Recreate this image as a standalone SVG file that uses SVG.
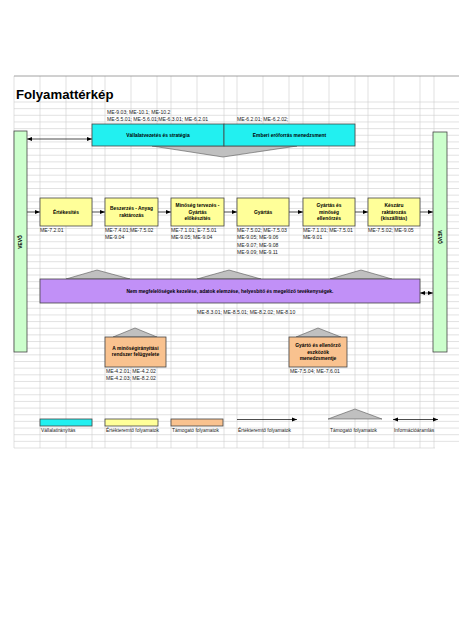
<svg xmlns="http://www.w3.org/2000/svg" width="474" height="632" viewBox="0 0 474 632">
<defs>
<marker id="ah" viewBox="0 0 10 10" refX="10" refY="5" markerWidth="5" markerHeight="5" markerUnits="userSpaceOnUse" orient="auto-start-reverse"><path d="M0,1 L10,5 L0,9 Z" fill="#000"/></marker>
<style>
text{font-family:"Liberation Sans",Arial,sans-serif;}
.grid{stroke:#cfcfcf;stroke-width:0.6;fill:none;}
.box{stroke:#444;stroke-width:0.8;}
.cyan{fill:#22f0f0;}
.yel{fill:#ffff99;}
.org{fill:#f9c28f;}
.pur{fill:#c190f7;}
.grn{fill:#ccffcc;}
.tri{fill:#c0c0c0;stroke:#555;stroke-width:0.6;}
.bt{font-size:4.9px;font-weight:bold;text-anchor:middle;fill:#000;}
.me{font-size:5.1px;fill:#222;}
.lg{font-size:4.9px;fill:#222;}
.ln{stroke:#000;stroke-width:0.7;fill:none;}
</style>
</defs>
<rect width="474" height="632" fill="#fff"/>
<g id="grid">
<path class="grid" d="M14,102H459M14,108.65H459M14,115.31H459M14,121.96H459M14,128.62H459M14,135.27H459M14,141.92H459M14,148.58H459M14,155.23H459M14,161.89H459M14,168.54H459M14,175.19H459M14,181.85H459M14,188.5H459M14,195.16H459M14,201.81H459M14,208.46H459M14,215.12H459M14,221.77H459M14,228.43H459M14,235.08H459M14,241.73H459M14,248.39H459M14,255.04H459M14,261.7H459M14,268.35H459M14,275H459M14,281.66H459M14,288.31H459M14,294.97H459M14,301.62H459M14,308.27H459M14,314.93H459M14,321.58H459M14,328.24H459M14,334.89H459M14,341.54H459M14,348.2H459M14,354.85H459M14,361.51H459M14,368.16H459M14,374.81H459M14,381.47H459M14,388.12H459M14,394.78H459M14,401.43H459M14,408.08H459M14,414.74H459M14,421.39H459M14,428.05H459M14,434.7H459M14,441.35H459M14,448H435"/>
<path class="grid" d="M14,76V448M40,76V448M66,76V448M92,76V448M105,76V448M131,76V448M157,76V448M171,76V448M197,76V448M224,76V448M237,76V448M263,76V448M289,76V448M303,76V448M329,76V448M355,76V448M368,76V448M394,76V448M420,76V448M434,76V448"/>
<path d="M14,76H459" stroke="#8a8a8a" stroke-width="0.8"/>
</g>
<text x="16" y="99" font-size="13.2" font-weight="bold" fill="#000">Folyamattérkép</text>

<g id="connectors">
<line class="ln" x1="27" y1="139" x2="92" y2="139" marker-start="url(#ah)" marker-end="url(#ah)"/>
<line class="ln" x1="27" y1="212" x2="40" y2="212" marker-end="url(#ah)"/>
<line class="ln" x1="92" y1="212" x2="105" y2="212" marker-end="url(#ah)"/>
<line class="ln" x1="158" y1="212" x2="171" y2="212" marker-end="url(#ah)"/>
<line class="ln" x1="224" y1="212" x2="237" y2="212" marker-end="url(#ah)"/>
<line class="ln" x1="289" y1="212" x2="303" y2="212" marker-end="url(#ah)"/>
<line class="ln" x1="355" y1="212" x2="368" y2="212" marker-end="url(#ah)"/>
<line class="ln" x1="420" y1="212" x2="433" y2="212" marker-end="url(#ah)"/>
<line class="ln" x1="420" y1="293" x2="433" y2="293" marker-start="url(#ah)" marker-end="url(#ah)"/>
<polygon class="tri" points="152,146 297,146 223,157"/>
<polygon class="tri" points="66,279 130,279 97,270"/>
<polygon class="tri" points="197,279 261,279 229,270"/>
<polygon class="tri" points="330,279 392,279 361,270"/>
<polygon class="tri" points="113,337 157,337 135,328"/>
<polygon class="tri" points="296,337 341,337 318,328"/>
</g>

<g id="vevo-left">
<rect class="box grn" x="14" y="131" width="13" height="221"/>
<text class="bt" transform="translate(22.2,242) rotate(-90)">VEVŐ</text>
</g>
<g id="vevo-right">
<rect class="box grn" x="433" y="132" width="14" height="220"/>
<text class="bt" transform="translate(438.3,237) rotate(90)">VEVŐ</text>
</g>

<g id="vallalatvezetes">
<text class="me" x="107" y="114">ME-9.03; ME-10.1; ME-10.2</text>
<text class="me" x="107" y="121">ME-5.5.01; ME-5.6.01;ME-6.3.01; ME-6.2.01</text>
<rect class="box cyan" x="92" y="124" width="132" height="22"/>
<text class="bt" x="158" y="136.5">Vállalatvezetés és stratégia</text>
</g>
<g id="emberi">
<text class="me" x="237" y="121">ME-6.2.01; ME-6.2.02;</text>
<rect class="box cyan" x="224" y="124" width="131" height="22"/>
<text class="bt" x="289.5" y="136.5">Emberi erőforrás menedzsment</text>
</g>

<g id="ertekesites">
<rect class="box yel" x="40" y="198" width="52" height="28"/>
<text class="bt" x="66" y="213.8">Értékesítés</text>
<text class="me" x="40" y="231.5">ME-7.2.01</text>
</g>
<g id="beszerzes">
<rect class="box yel" x="105" y="198" width="53" height="28"/>
<text class="bt" x="131.5" y="209.8">Beszerzés -  Anyag</text>
<text class="bt" x="131.5" y="216.5">raktározás</text>
<text class="me" x="105" y="231.5">ME-7.4.01;ME-7.5.02</text>
<text class="me" x="105" y="239">ME-9.04</text>
</g>
<g id="minoseg-tervezes">
<rect class="box yel" x="171" y="198" width="53" height="28"/>
<text class="bt" x="197.5" y="206.8">Minőség tervezés -</text>
<text class="bt" x="197.5" y="213.5">Gyártás</text>
<text class="bt" x="197.5" y="220.2">előkészítés</text>
<text class="me" x="171" y="231.5">ME-7.1.01; E-7.5.01</text>
<text class="me" x="171" y="239">ME-9.05; ME-9.04</text>
</g>
<g id="gyartas">
<rect class="box yel" x="237" y="198" width="52" height="28"/>
<text class="bt" x="263" y="213.8">Gyártás</text>
<text class="me" x="237" y="231.5">ME-7.5.02; ME-7.5.03</text>
<text class="me" x="237" y="239">ME-9.05; ME-9.06</text>
<text class="me" x="237" y="246.5">ME-9.07; ME-9.08</text>
<text class="me" x="237" y="254">ME-9.09; ME-9.11</text>
</g>
<g id="gyartas-ellenorzes">
<rect class="box yel" x="303" y="198" width="52" height="28"/>
<text class="bt" x="329" y="206.8">Gyártás és</text>
<text class="bt" x="329" y="213.5">minőség</text>
<text class="bt" x="329" y="220.2">ellenőrzés</text>
<text class="me" x="303" y="231.5">ME-7.1.01; ME-7.5.01</text>
<text class="me" x="303" y="239">ME-9.01</text>
</g>
<g id="keszaru">
<rect class="box yel" x="368" y="198" width="52" height="28"/>
<text class="bt" x="394" y="206.8">Készáru</text>
<text class="bt" x="394" y="213.5">raktározás</text>
<text class="bt" x="394" y="220.2">(kiszállítás)</text>
<text class="me" x="368" y="231.5">ME-7.5.02; ME-9.05</text>
</g>

<g id="nem-megfeleloseg">
<rect class="box pur" x="40" y="279" width="380" height="24"/>
<text class="bt" x="230" y="292.5">Nem megfelelőségek kezelése, adatok elemzése, helyesbítő és megelőző tevékenységek.</text>
<text class="me" x="197" y="313.5">ME-8.3.01; ME-8.5.01; ME-8.2.02; ME-8.10</text>
</g>

<g id="minosegiranyitas">
<rect class="box org" x="105" y="337" width="61" height="30"/>
<text class="bt" x="135.5" y="349.5">A minőségirányítási</text>
<text class="bt" x="135.5" y="356.2">rendszer felügyelete</text>
<text class="me" x="106" y="373">ME-4.2.01; ME-4.2.02</text>
<text class="me" x="106" y="379.5">ME-4.2.03; ME-8.2.02</text>
</g>
<g id="gyarto-eszkozok">
<rect class="box org" x="289" y="337" width="58" height="30"/>
<text class="bt" x="318" y="346.8">Gyártó és ellenőrző</text>
<text class="bt" x="318" y="353.5">eszközök</text>
<text class="bt" x="318" y="360.2">menedzsmentje</text>
<text class="me" x="290" y="372.5">ME-7.5.04; ME-7.6.01</text>
</g>

<g id="legend">
<rect class="box cyan" x="40" y="419" width="52" height="7"/>
<text class="lg" x="41" y="432">Vállalatirányítás</text>
<rect class="box yel" x="105" y="419" width="53" height="7"/>
<text class="lg" x="106" y="432">Értékteremtő folyamatok</text>
<rect class="box org" x="171" y="419" width="52" height="7"/>
<text class="lg" x="172" y="432">Támogató folyamatok</text>
<line class="ln" x1="237" y1="419.5" x2="297" y2="419.5" marker-end="url(#ah)"/>
<text class="lg" x="238" y="432">Értékteremtő folyamatok</text>
<polygon class="tri" points="328,419 382,419 355,409"/>
<text class="lg" x="330" y="432">Támogató folyamatok</text>
<line class="ln" x1="393" y1="419.5" x2="438" y2="419.5" marker-start="url(#ah)" marker-end="url(#ah)"/>
<text class="lg" x="394" y="432">Információáramlás</text>
</g>
</svg>
